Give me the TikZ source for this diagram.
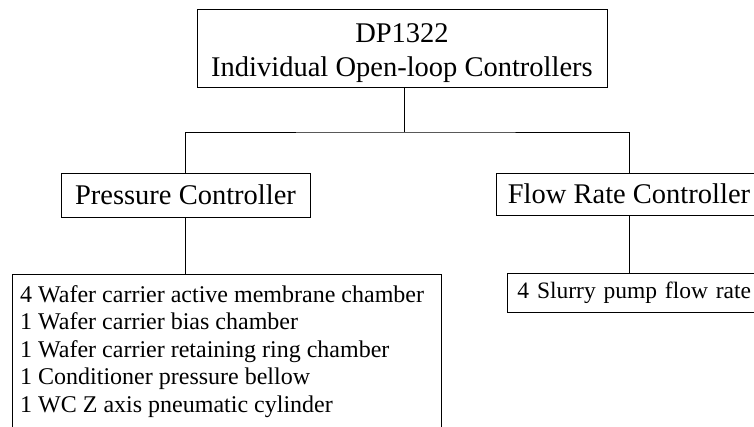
\documentclass[tikz,border=0pt]{standalone}
\usepackage{fontspec}
\setmainfont{Liberation Serif}
\begin{document}
\begin{tikzpicture}[x=1pt,y=-1pt,
  ln/.style={line width=0.9pt},
  bigbox/.style={draw, ln, inner sep=0pt, font=\fontsize{28.5}{34}\selectfont},
  listtext/.style={inner xsep=8pt, inner ysep=11pt, align=left, font=\fontsize{24}{27.5}\selectfont},
  smallbox/.style={draw, ln, inner xsep=10pt, inner ysep=0pt, font=\fontsize{23.5}{27.5}\selectfont}]
\useasboundingbox (0,0) rectangle (754,426);
\clip (0,0) rectangle (754,426);
\fill[white] (0,0) rectangle (754,426);
\node[bigbox, minimum width=410pt, minimum height=78pt, align=center] (top) at (402,48) {\rule{0pt}{29.5pt}DP1322\\Individual Open-loop Controllers};
\node[bigbox, minimum width=249pt, minimum height=44pt] (press) at (185.5,195) {Pressure Controller};
\node[bigbox, minimum width=266pt, minimum height=42pt] (flow) at (629,194) {Flow Rate Controller};
\node[listtext, anchor=north west] (plist) at (12,274) {4 Wafer carrier active membrane chamber\\1 Wafer carrier bias chamber\\1 Wafer carrier retaining ring chamber\\1 Conditioner pressure bellow\\1 WC Z axis pneumatic cylinder};
\draw[ln] (plist.north west) ++(0,200) -- (plist.north west) -- ++(429,0) -- ++(0,200);
\node[smallbox, anchor=west, minimum height=39pt, minimum width=280pt, text width=260pt, align=left] (slurry) at (507,292.5) {4 Slurry pump flow rate};
\coordinate (bus) at (404,132);
\draw[ln] (top.south -| bus) -- (bus);
\draw[ln] (press.north) |- (bus) -| (flow.north);
\draw[ln] (press.south) -- (press.south |- plist.north);
\draw[ln] (flow.south) -- (flow.south |- slurry.north);
\end{tikzpicture}
\end{document}
